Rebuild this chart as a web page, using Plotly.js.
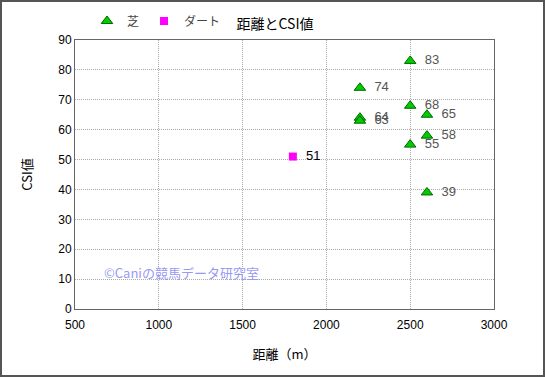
<!DOCTYPE html>
<html><head><meta charset="utf-8">
<script src="https://cdn.plot.ly/plotly-3.0.1.min.js"></script>
<style>html,body{margin:0;padding:0;background:#fff}#wrap{position:relative;width:545px;height:377px}#chart{width:545px;height:377px}#frame{position:absolute;left:0;top:0;width:541px;height:373px;border:2px solid #555;pointer-events:none}</style>
</head><body>
<div id="wrap"><div id="chart"></div><div id="frame"></div></div>
<script>
const turfName = "芝";
const turfDistance = [2200, 2200, 2200, 2500, 2500, 2500, 2600, 2600, 2600];
const turfCSI = [74, 64, 63, 83, 68, 55, 65, 58, 39];
const dirtName = "ダート";
const dirtDistance = [1800];
const dirtCSI = [51];
const xTicks = [500, 1000, 1500, 2000, 2500, 3000];
const yTicks = [0, 10, 20, 30, 40, 50, 60, 70, 80, 90];

const F = "Liberation Sans, Arial, Noto Sans CJK JP, sans-serif";
const J = "Noto Sans CJK JP, sans-serif";
const lbl = v => "  " + v;

const traces = [
  {type: "scatter", mode: "markers+text", name: turfName, x: turfDistance, y: turfCSI,
   text: turfCSI.map(lbl), textposition: "middle right",
   textfont: {family: F, size: 13, color: "#555"},
   marker: {symbol: "triangle-up", size: 10, color: "#00cc00", line: {color: "#006600", width: 1}},
   cliponaxis: false},
  {type: "scatter", mode: "markers+text", name: dirtName, x: dirtDistance, y: dirtCSI,
   text: dirtCSI.map(lbl), textposition: "middle right",
   textfont: {family: F, size: 13, color: "#000"},
   marker: {symbol: "square", size: 8, color: "#ff00ff", line: {width: 0}},
   cliponaxis: false}
];

const grid = {showgrid: true, gridcolor: "#aaa", griddash: "1px,1px", gridwidth: 1,
              showline: true, linecolor: "#666", linewidth: 1, mirror: true,
              ticks: "", zeroline: false, tickfont: {family: F, size: 12, color: "#000"}};

const layout = {
  width: 545, height: 377,
  margin: {l: 75, r: 51, t: 40, b: 68},
  paper_bgcolor: "#fff", plot_bgcolor: "#fff",
  font: {family: F, size: 12, color: "#000"},
  title: {text: "距離とCSI値", x: 275/545, xref: "container", xanchor: "center",
          y: 1 - 24/377, yref: "container", yanchor: "middle",
          font: {family: J, size: 14, color: "#000"}},
  showlegend: true,
  legend: {orientation: "h", x: 87/545, xref: "container", y: 1 - 21/377, yref: "container",
           yanchor: "middle", xanchor: "left",
           font: {family: J, size: 12, color: "#444"},
           itemwidth: 30, tracegroupgap: 0, bgcolor: "rgba(0,0,0,0)"},
  xaxis: Object.assign({}, grid, {range: [500, 3000], tickvals: xTicks, ticktext: xTicks.map(String),
          ticklabelstandoff: 5,
          title: {text: "距離（m）", standoff: 18, font: {family: J, size: 13, color: "#000"}}}),
  yaxis: Object.assign({}, grid, {range: [0, 90], tickvals: yTicks, ticktext: yTicks.map(String),
          title: {text: "CSI値", standoff: 22, font: {family: J, size: 13, color: "#000"}}}),
  annotations: [{text: "©Caniの競馬データ研究室", xref: "paper", yref: "paper",
                 x: (102-75)/419, y: (309-272)/269, xanchor: "left", yanchor: "middle",
                 showarrow: false, font: {family: J, size: 13, color: "#9999f5"}}]
};

Plotly.newPlot("chart", traces, layout, {displayModeBar: false, staticPlot: true});
</script>
</body></html>
